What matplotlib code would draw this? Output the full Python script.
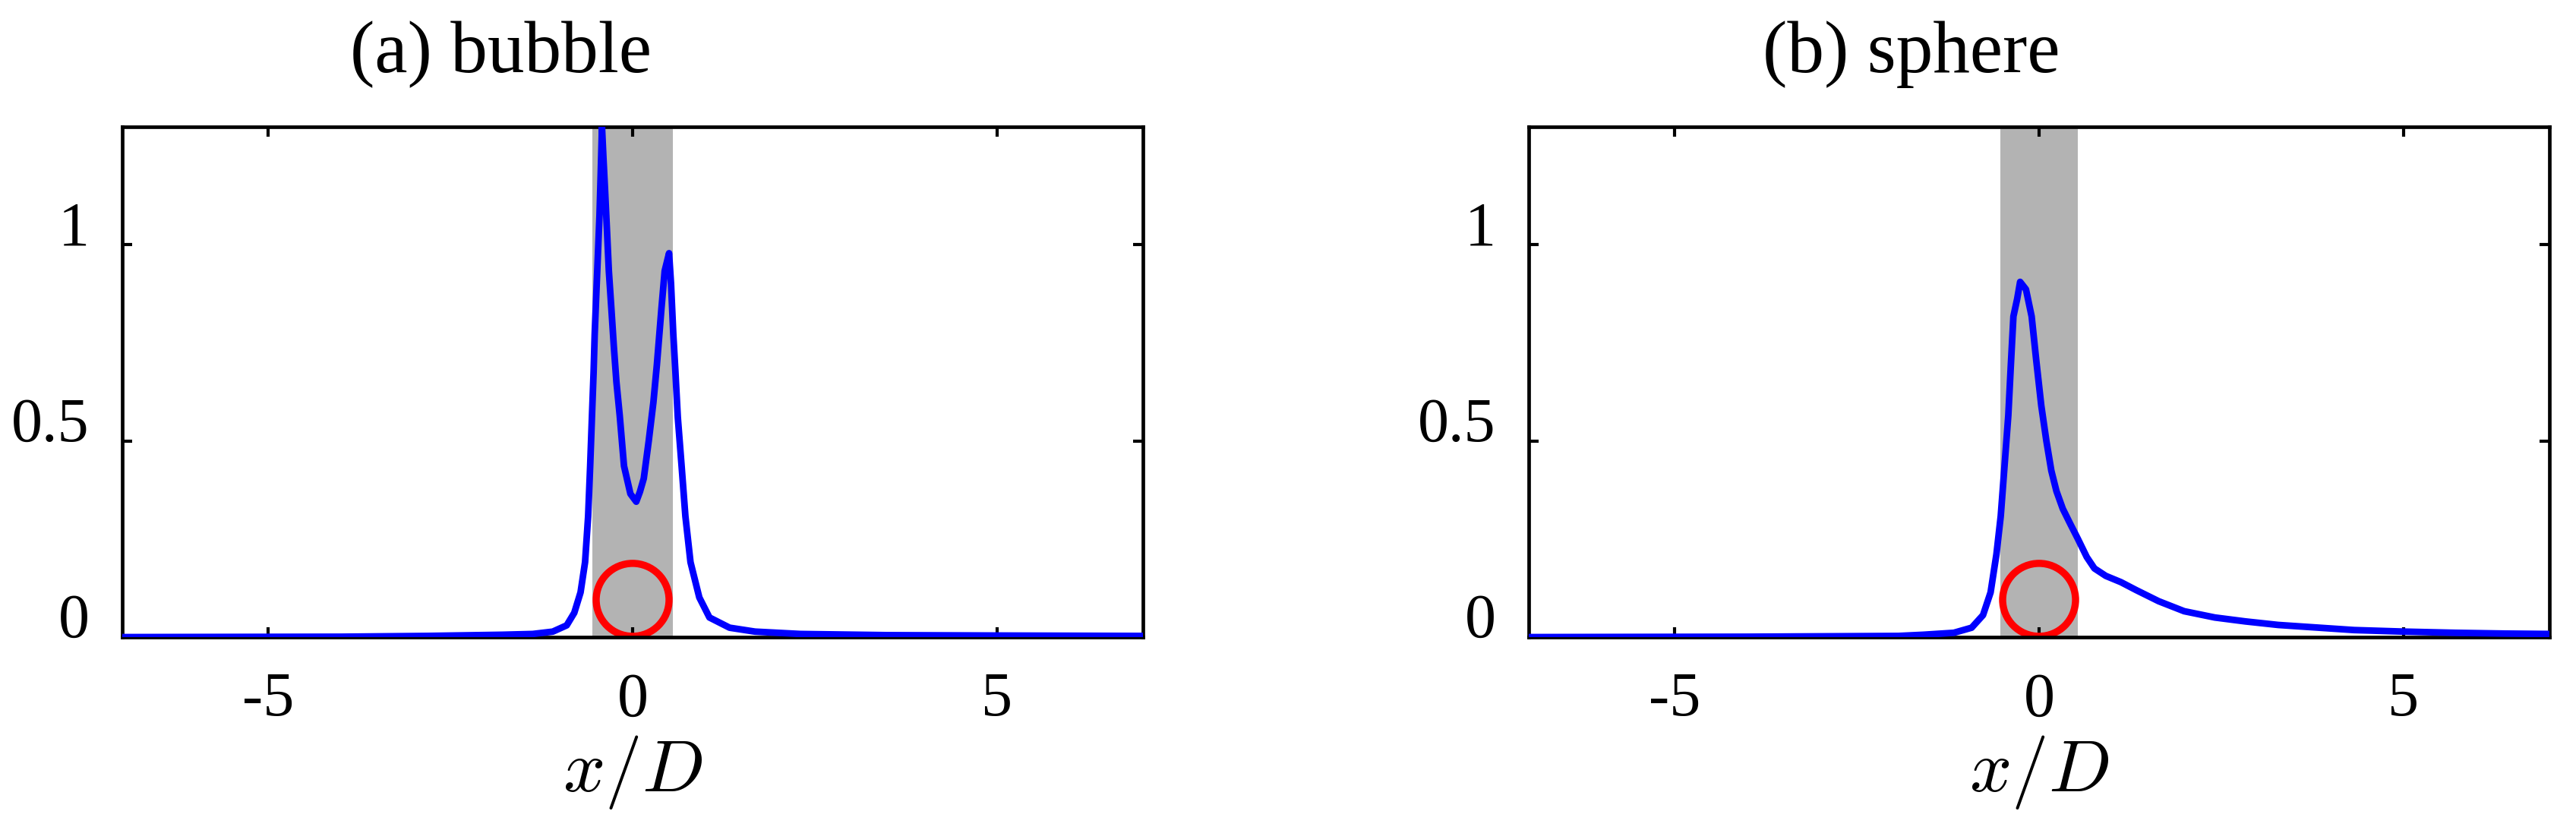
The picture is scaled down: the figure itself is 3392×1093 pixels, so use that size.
import matplotlib
matplotlib.use("Agg")
import matplotlib.pyplot as plt
from matplotlib.patches import Ellipse

plt.rcParams['font.family'] = ['Liberation Serif', 'DejaVu Serif']
plt.rcParams['mathtext.fontset'] = 'cm'
plt.rcParams['axes.unicode_minus'] = False

# ---------------- data ----------------
x_bubble = [-7.0, -4.0, -2.83, -1.79, -1.37, -1.095, -0.904, -0.80, -0.714, -0.652,
            -0.610, -0.582, -0.557, -0.535, -0.52, -0.502, -0.478, -0.454, -0.437, -0.42,
            -0.40, -0.378, -0.35, -0.326, -0.291, -0.257, -0.222, -0.177, -0.118, -0.03,
            0.05, 0.10, 0.153, 0.222, 0.285, 0.333, 0.395, 0.44, 0.50, 0.527,
            0.558, 0.586, 0.62, 0.672, 0.724, 0.794, 0.915, 1.054, 1.33, 1.68,
            2.3, 3.5, 5.0, 7.0]
y_bubble = [0.0, 0.001, 0.003, 0.006, 0.008, 0.014, 0.030, 0.062, 0.114, 0.191,
            0.308, 0.437, 0.565, 0.675, 0.772, 0.856, 0.965, 1.075, 1.184, 1.30,
            1.22, 1.139, 1.030, 0.933, 0.836, 0.739, 0.650, 0.565, 0.436, 0.365,
            0.345, 0.37, 0.404, 0.501, 0.598, 0.694, 0.836, 0.933, 0.978, 0.90,
            0.772, 0.68, 0.56, 0.436, 0.308, 0.191, 0.101, 0.050, 0.024, 0.014,
            0.008, 0.005, 0.004, 0.003]

x_sphere = [-7.0, -4.0, -1.93, -1.59, -1.17, -0.925, -0.769, -0.665, -0.585, -0.526,
            -0.474, -0.422, -0.387, -0.352, -0.30, -0.26, -0.18, -0.102, -0.040, 0.030,
            0.099, 0.168, 0.238, 0.325, 0.429, 0.533, 0.654, 0.759, 0.915, 1.123,
            1.33, 1.64, 1.99, 2.41, 2.83, 3.28, 4.32, 5.01, 5.71, 6.40, 7.0]
y_sphere = [0.0, 0.001, 0.003, 0.006, 0.011, 0.024, 0.056, 0.114, 0.211, 0.308,
            0.436, 0.565, 0.694, 0.817, 0.862, 0.905, 0.886, 0.817, 0.707, 0.590,
            0.501, 0.424, 0.372, 0.327, 0.288, 0.250, 0.204, 0.175, 0.156, 0.140,
            0.120, 0.0915, 0.066, 0.050, 0.040, 0.031, 0.018, 0.014, 0.011, 0.009, 0.008]

titles = ['(a) bubble', '(b) sphere']
band_half = [0.55, 0.53]
circle_center = (0.0, 0.095)
circle_diameter = 1.0
xticks = [-5, 0, 5]
xticklabels = ['-5', '0', '5']
yticks = [0, 0.5, 1]
yticklabels = ['0', '0.5', '1']
xlim = (-7, 7)
ylim = (0, 1.3)

# ---------------- figure ----------------
W, H = 3392, 1093
fig = plt.figure(figsize=(W / 100, H / 100), dpi=100)
ax_w = 1344 / W
ax_h = 672 / H
ax_b = (H - 839) / H
lefts = [161 / W, 2013 / W]
title_x = [0.371, 0.375]

series = [(x_bubble, y_bubble), (x_sphere, y_sphere)]

for i in range(2):
    ax = fig.add_axes([lefts[i], ax_b, ax_w, ax_h])
    ax.set_xlim(*xlim)
    ax.set_ylim(*ylim)
    ax.axvspan(-band_half[i], band_half[i], color='#b3b3b3', lw=0, zorder=1)
    xs, ys = series[i]
    ax.plot(xs, ys, color='#0000ff', lw=6.3, zorder=3, solid_joinstyle='round')
    # circle: diameter D in x units, round on screen
    px_per_x = ax_w * W / (xlim[1] - xlim[0])
    px_per_y = ax_h * H / (ylim[1] - ylim[0])
    ell = Ellipse(circle_center, width=circle_diameter,
                  height=circle_diameter * px_per_x / px_per_y,
                  fill=False, edgecolor='#ff0000', lw=6.8, zorder=2)
    ax.add_patch(ell)

    ax.set_xticks(xticks)
    ax.set_xticklabels(xticklabels)
    ax.set_yticks(yticks)
    ax.set_yticklabels(yticklabels)
    ax.tick_params(direction='in', length=9.5, width=3.0, top=True, right=True,
                   labelsize=59, colors='black')
    ax.tick_params(axis='x', pad=33)
    ax.tick_params(axis='y', pad=31)
    for lab in ax.get_yticklabels():
        lab.set_verticalalignment('baseline')
    for sp in ax.spines.values():
        sp.set_linewidth(3.4)
        sp.set_zorder(2.5)

    ax.text(title_x[i], 1 + 72 / 672, titles[i], transform=ax.transAxes,
            ha='center', va='baseline', fontsize=70)
    ax.text(0.5, -203 / 672, r'$x/D$', transform=ax.transAxes,
            ha='center', va='baseline', fontsize=70)

fig.savefig('out.png', dpi=100)
